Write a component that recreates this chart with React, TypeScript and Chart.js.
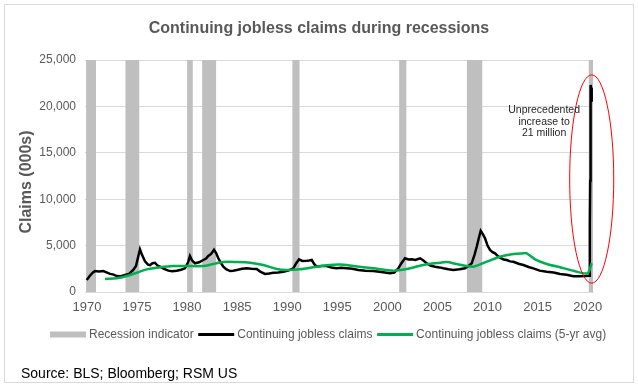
import React, { useEffect, useRef } from "react";
import { Chart, registerables } from "chart.js";

Chart.register(...registerables);

const FONT = "'Liberation Sans', Arial, Helvetica, sans-serif";

const TITLE = "Continuing jobless claims during recessions";
const Y_TITLE = "Claims (000s)";
const SOURCE = "Source: BLS; Bloomberg; RSM US";
const NOTE_LINES = ["Unprecedented", "increase to", "21 million"];

const X_TICKS = [1970, 1975, 1980, 1985, 1990, 1995, 2000, 2005, 2010, 2015, 2020];
const Y_TICKS = [0, 5000, 10000, 15000, 20000, 25000];

const SERIES_LABELS = [
  "Recession indicator",
  "Continuing jobless claims",
  "Continuing jobless claims (5-yr avg)",
];

// NBER recessions (fractional years)
const RECESSION_START = [1969.92, 1973.83, 1980.0, 1981.5, 1990.5, 2001.17, 2007.92, 2020.08];
const RECESSION_END = [1970.92, 1975.25, 1980.58, 1982.92, 1991.25, 2001.92, 2009.5, 2020.53];

// Continuing jobless claims (000s)
const CLAIMS_YEARS = [
  1969.98, 1970.3, 1970.6, 1970.81, 1971.2, 1971.64, 1971.9, 1972.31, 1972.6, 1972.98,
  1973.4, 1973.8, 1974.2, 1974.63, 1974.9, 1975.1, 1975.3, 1975.5, 1975.8, 1976.1,
  1976.3, 1976.55, 1976.8, 1977.05, 1977.3, 1977.7, 1978.13, 1978.5, 1978.97, 1979.4,
  1979.8, 1980.1, 1980.29, 1980.5, 1980.79, 1981.2, 1981.62, 1981.9, 1982.12, 1982.4,
  1982.69, 1982.9, 1983.12, 1983.4, 1983.62, 1983.9, 1984.29, 1984.6, 1984.96, 1985.5,
  1985.96, 1986.4, 1986.95, 1987.3, 1987.78, 1988.2, 1988.61, 1989.1, 1989.61, 1990.1,
  1990.61, 1990.9, 1991.18, 1991.5, 1991.95, 1992.2, 1992.45, 1992.7, 1992.95, 1993.4,
  1993.94, 1994.4, 1994.94, 1995.4, 1995.94, 1996.5, 1997.1, 1997.8, 1998.6, 1999.4,
  2000.26, 2000.7, 2001.09, 2001.4, 2001.76, 2002.1, 2002.43, 2002.8, 2003.26, 2003.6,
  2003.93, 2004.3, 2004.76, 2005.2, 2005.59, 2006.1, 2006.59, 2007.2, 2007.75, 2008.1,
  2008.42, 2008.7, 2008.92, 2009.15, 2009.32, 2009.5, 2009.75, 2010.0, 2010.25, 2010.5,
  2010.75, 2011.0, 2011.25, 2011.6, 2011.92, 2012.25, 2012.58, 2013.1, 2013.58, 2014.1,
  2014.57, 2015.2, 2015.91, 2016.6, 2017.24, 2017.9, 2018.57, 2019.2, 2019.83, 2020.15,
  2020.2, 2020.23, 2020.25, 2020.27, 2020.29, 2020.31, 2020.34, 2020.38, 2020.42,
];
const CLAIMS_VALUES = [
  1300, 1750, 2100, 2250, 2200, 2260, 2150, 1950, 1900, 1720,
  1700, 1830, 1950, 2370, 2800, 3700, 4600, 4000, 3300, 2950,
  2900, 3100, 3150, 2850, 2730, 2500, 2300, 2250, 2300, 2400,
  2550, 3200, 3880, 3400, 3090, 3200, 3450, 3600, 3880, 4100,
  4550, 4200, 3630, 3100, 2730, 2450, 2260, 2300, 2370, 2500,
  2550, 2500, 2480, 2200, 1950, 2000, 2080, 2100, 2190, 2300,
  2550, 3100, 3520, 3350, 3370, 3400, 3450, 3000, 2730, 2800,
  2800, 2650, 2550, 2600, 2550, 2500, 2370, 2300, 2260, 2150,
  2010, 2100, 2550, 3100, 3630, 3500, 3520, 3450, 3630, 3400,
  3090, 2850, 2730, 2650, 2550, 2450, 2370, 2450, 2550, 2800,
  3090, 4000, 4880, 5900, 6600, 6300, 5780, 5000, 4530, 4300,
  4170, 3900, 3700, 3500, 3450, 3300, 3250, 3050, 2910, 2700,
  2550, 2300, 2190, 2100, 1940, 1850, 1700, 1700, 1720, 1750,
  3000, 7400, 12000, 16000, 18000, 22300, 22000, 21000, 20500,
];

// 5-year average (000s)
const AVG_YEARS = [
  1971.81, 1972.98, 1973.97, 1974.97, 1975.97, 1977.3, 1978.63, 1979.97, 1981.62, 1982.62,
  1983.62, 1984.96, 1986.29, 1987.61, 1988.95, 1989.95, 1991.28, 1992.61, 1993.94, 1995.27,
  1996.6, 1998.6, 2000.59, 2001.93, 2003.59, 2005.26, 2005.93, 2006.92, 2008.58, 2009.92,
  2011.25, 2012.58, 2013.58, 2013.91, 2014.74, 2015.91, 2017.24, 2018.57, 2019.97, 2020.4,
];
const AVG_VALUES = [
  1400, 1480, 1720, 2080, 2440, 2660, 2800, 2800, 2800, 3020,
  3230, 3230, 3160, 2910, 2480, 2370, 2440, 2660, 2870, 2950,
  2800, 2550, 2300, 2480, 2910, 3160, 3230, 3020, 2730, 3270,
  3800, 4090, 4170, 4170, 3520, 3020, 2660, 2300, 2010, 3090,
];

// annotation anchors in data units
const NOTE_YEAR = 2015.65;
const NOTE_VALUE = 19600;
const ELLIPSE_YEAR_RANGE = [2018.2, 2022.6];
const ELLIPSE_VALUE_RANGE = [950, 23400];

const X_MIN = 1969.81;
const X_MAX = 2020.53;

const COLORS = {
  recession: "#bfbfbf",
  claims: "#000000",
  avg: "#00b050",
  text: "#595959",
  grid: "#d9d9d9",
  note: "#ff0000",
};

const decorPlugin = {
  id: "decor",
  beforeDraw(chart: any) {
    const ctx = chart.ctx;
    ctx.save();
    ctx.fillStyle = "#ffffff";
    ctx.fillRect(0, 0, chart.width, chart.height);
    ctx.restore();
  },
  afterDraw(chart: any) {
    const ctx = chart.ctx;
    const xs = chart.scales.x;
    const ys = chart.scales.y;
    const area = chart.chartArea;
    ctx.save();

    // outer border
    ctx.strokeStyle = COLORS.grid;
    ctx.lineWidth = 1;
    ctx.strokeRect(4.5, 4.5, chart.width - 9, chart.height - 10);

    // title
    ctx.fillStyle = COLORS.text;
    ctx.font = `bold 16px ${FONT}`;
    ctx.textAlign = "center";
    ctx.textBaseline = "alphabetic";
    ctx.fillText(TITLE, chart.width / 2, 33);

    // y title
    ctx.save();
    ctx.translate(27, (area.top + area.bottom) / 2 + 6);
    ctx.rotate(-Math.PI / 2);
    ctx.textAlign = "center";
    ctx.textBaseline = "middle";
    ctx.font = `bold 16px ${FONT}`;
    ctx.fillText(Y_TITLE, 0, 0);
    ctx.restore();

    // legend
    const ly = 334.5;
    let lx = 50;
    ctx.font = `12px ${FONT}`;
    ctx.textAlign = "left";
    ctx.textBaseline = "middle";
    chart.data.datasets.forEach((ds: any, i: number) => {
      if (i === 0) {
        ctx.fillStyle = ds.backgroundColor;
        ctx.fillRect(lx, ly - 3, 36, 6);
      } else {
        ctx.strokeStyle = ds.borderColor;
        ctx.lineWidth = 3;
        ctx.beginPath();
        ctx.moveTo(lx, ly);
        ctx.lineTo(lx + 36, ly);
        ctx.stroke();
      }
      ctx.fillStyle = COLORS.text;
      ctx.fillText(ds.label, lx + 39, ly);
      lx += 39 + ctx.measureText(ds.label).width + 4.5;
    });

    // source
    ctx.fillStyle = "#000000";
    ctx.font = `14px ${FONT}`;
    ctx.textBaseline = "alphabetic";
    ctx.fillText(SOURCE, 21, 378);

    // red ellipse
    const ex0 = xs.getPixelForValue(ELLIPSE_YEAR_RANGE[0]);
    const ex1 = xs.getPixelForValue(ELLIPSE_YEAR_RANGE[1]);
    const ey0 = ys.getPixelForValue(ELLIPSE_VALUE_RANGE[0]);
    const ey1 = ys.getPixelForValue(ELLIPSE_VALUE_RANGE[1]);
    ctx.strokeStyle = COLORS.note;
    ctx.lineWidth = 1;
    ctx.beginPath();
    ctx.ellipse((ex0 + ex1) / 2, (ey0 + ey1) / 2, Math.abs(ex1 - ex0) / 2, Math.abs(ey0 - ey1) / 2, 0, 0, Math.PI * 2);
    ctx.stroke();

    // note text
    const nx = xs.getPixelForValue(NOTE_YEAR);
    const ny = ys.getPixelForValue(NOTE_VALUE);
    ctx.fillStyle = "#262626";
    ctx.font = `10.5px ${FONT}`;
    ctx.textAlign = "center";
    ctx.textBaseline = "middle";
    NOTE_LINES.forEach((t, i) => ctx.fillText(t, nx, ny + i * 11.5));

    ctx.restore();
  },
};

export default function App() {
  const ref = useRef<HTMLCanvasElement | null>(null);

  useEffect(() => {
    if (!ref.current) return;
    const yMax = Y_TICKS[Y_TICKS.length - 1];
    const recData: any[] = [];
    RECESSION_START.forEach((s, i) => {
      recData.push({ x: s, y: yMax });
      recData.push({ x: RECESSION_END[i], y: yMax });
      recData.push({ x: RECESSION_END[i], y: null });
    });
    const claims = CLAIMS_YEARS.map((x, i) => ({ x, y: CLAIMS_VALUES[i] }));
    const avg = AVG_YEARS.map((x, i) => ({ x, y: AVG_VALUES[i] }));

    const chart = new Chart(ref.current, {
      type: "line",
      data: {
        datasets: [
          {
            label: SERIES_LABELS[0],
            data: recData,
            backgroundColor: COLORS.recession,
            borderColor: COLORS.recession,
            borderWidth: 0,
            pointRadius: 0,
            fill: "origin",
            spanGaps: false,
            order: 3,
          },
          {
            label: SERIES_LABELS[1],
            data: claims,
            borderColor: COLORS.claims,
            backgroundColor: COLORS.claims,
            borderWidth: 2.5,
            pointRadius: 0,
            tension: 0,
            fill: false,
            order: 2,
          },
          {
            label: SERIES_LABELS[2],
            data: avg,
            borderColor: COLORS.avg,
            backgroundColor: COLORS.avg,
            borderWidth: 2.5,
            pointRadius: 0,
            tension: 0.3,
            fill: false,
            order: 1,
          },
        ],
      },
      options: {
        animation: false,
        responsive: false,
        devicePixelRatio: 1,
        layout: { padding: { left: 0, top: 60, right: 45, bottom: 60 } },
        plugins: {
          legend: { display: false },
          title: { display: false },
          tooltip: { enabled: false },
        },
        scales: {
          x: {
            type: "linear",
            min: X_MIN,
            max: X_MAX,
            afterFit: (s: any) => {
              s.height = 36;
            },
            afterBuildTicks: (s: any) => {
              s.ticks = X_TICKS.map((v) => ({ value: v }));
            },
            ticks: {
              callback: (v: any) => String(v),
              font: { family: FONT, size: 13 },
              color: COLORS.text,
              padding: 8,
              maxRotation: 0,
              autoSkip: false,
            },
            grid: { display: false, drawTicks: false },
            border: { display: true, color: COLORS.grid, width: 1 },
          },
          y: {
            min: Y_TICKS[0],
            max: yMax,
            afterFit: (s: any) => {
              s.width = 85;
            },
            afterBuildTicks: (s: any) => {
              s.ticks = Y_TICKS.map((v) => ({ value: v }));
            },
            ticks: {
              callback: (v: any) => Number(v).toLocaleString("en-US"),
              font: { family: FONT, size: 12 },
              color: COLORS.text,
              padding: 9,
            },
            grid: { color: COLORS.grid, drawTicks: false },
            border: { display: false },
          },
        },
      } as any,
      plugins: [decorPlugin],
    });
    return () => chart.destroy();
  }, []);

  return (
    <div style={{ position: "fixed", left: 0, top: 0, width: 638, height: 388 }}>
      <canvas ref={ref} width={638} height={388} style={{ display: "block" }} />
    </div>
  );
}
